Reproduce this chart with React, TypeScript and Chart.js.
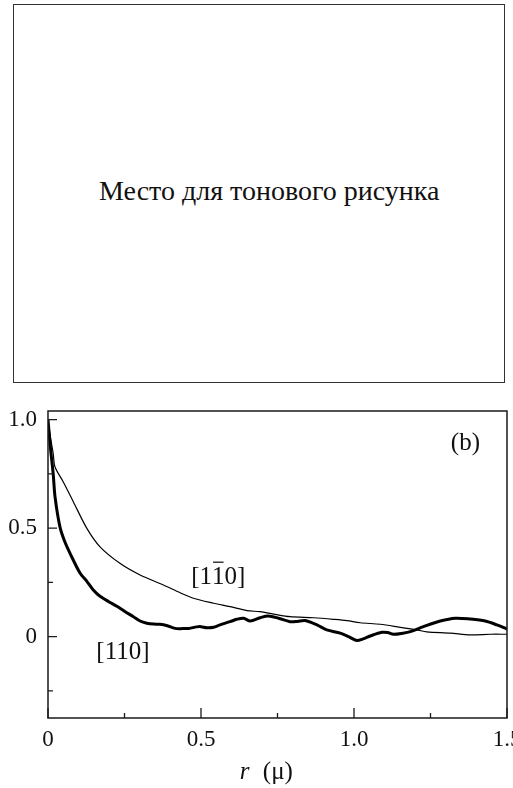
import React, { useEffect, useRef } from "react";
import { Chart, registerables } from "chart.js";

Chart.register(...registerables);

// ---- data ----
const thickX = [0, 0.008, 0.017, 0.023, 0.039, 0.055, 0.072, 0.105, 0.127, 0.148, 0.17, 0.2, 0.225, 0.25, 0.279, 0.301, 0.323, 0.345, 0.366, 0.39, 0.415, 0.44, 0.46, 0.486, 0.5, 0.519, 0.541, 0.562, 0.595, 0.617, 0.639, 0.661, 0.693, 0.72, 0.753, 0.791, 0.815, 0.84, 0.879, 0.911, 0.955, 0.982, 1.009, 1.03, 1.053, 1.091, 1.11, 1.129, 1.16, 1.184, 1.227, 1.282, 1.331, 1.38, 1.429, 1.467, 1.5];
const thickY = [1.0, 0.87, 0.75, 0.644, 0.506, 0.437, 0.384, 0.292, 0.255, 0.215, 0.186, 0.16, 0.14, 0.117, 0.092, 0.072, 0.062, 0.058, 0.057, 0.05, 0.038, 0.037, 0.038, 0.045, 0.046, 0.041, 0.043, 0.054, 0.069, 0.08, 0.085, 0.072, 0.087, 0.095, 0.085, 0.069, 0.07, 0.074, 0.054, 0.031, 0.016, 0.0, -0.018, -0.01, 0.003, 0.02, 0.019, 0.011, 0.016, 0.023, 0.046, 0.072, 0.085, 0.081, 0.072, 0.054, 0.035];

const thinX = [0, 0.008, 0.017, 0.023, 0.05, 0.083, 0.127, 0.17, 0.235, 0.301, 0.377, 0.432, 0.475, 0.541, 0.595, 0.65, 0.693, 0.737, 0.791, 0.868, 0.933, 0.977, 1.02, 1.086, 1.151, 1.206, 1.238, 1.315, 1.38, 1.446, 1.5];
const thinY = [1.0, 0.92, 0.844, 0.782, 0.713, 0.621, 0.499, 0.414, 0.338, 0.284, 0.238, 0.202, 0.177, 0.154, 0.138, 0.12, 0.115, 0.104, 0.092, 0.087, 0.08, 0.074, 0.064, 0.057, 0.043, 0.031, 0.022, 0.016, 0.008, 0.011, 0.011];

const xTickValues = [0, 0.25, 0.5, 0.75, 1.0, 1.25, 1.5];
const xTickLabels = ["0", "", "0.5", "", "1.0", "", "1.5"];
const yTickValues = [-0.25, 0, 0.25, 0.5, 0.75, 1.0];
const yTickLabels = ["", "0", "", "0.5", "", "1.0"];

const placeholderText = "Место для тонового рисунка";
const panelLabel = "(b)";
const thinLabelParts = ["[1", "1", "0]"]; // middle "1" carries an overline
const thickLabel = "[110]";
const axisTitleVar = "r";
const axisTitleUnit = "(μ)";

const SERIF = '"Liberation Serif", "Times New Roman", serif';

const annotationPlugin = {
  id: "annotations",
  afterDraw(chart: any) {
    const { ctx, chartArea, scales } = chart;
    const xs = scales.x;
    const ys = scales.y;
    ctx.save();
    // frame
    ctx.strokeStyle = "#1a1a1a";
    ctx.lineWidth = 1.5;
    ctx.strokeRect(chartArea.left, chartArea.top, chartArea.right - chartArea.left, chartArea.bottom - chartArea.top);
    // inward ticks
    ctx.lineWidth = 1.3;
    ctx.beginPath();
    yTickValues.forEach((v, i) => {
      const py = ys.getPixelForValue(v);
      const len = yTickLabels[i] ? 9 : 5;
      ctx.moveTo(chartArea.left, py);
      ctx.lineTo(chartArea.left + len, py);
    });
    xTickValues.forEach((v, i) => {
      const px = xs.getPixelForValue(v);
      const len = xTickLabels[i] ? 10 : 5;
      ctx.moveTo(px, chartArea.bottom);
      ctx.lineTo(px, chartArea.bottom - len);
    });
    ctx.stroke();

    ctx.fillStyle = "#111";
    ctx.textBaseline = "middle";
    // panel label
    ctx.font = `25px ${SERIF}`;
    ctx.textAlign = "center";
    ctx.fillText(panelLabel, xs.getPixelForValue(1.364), ys.getPixelForValue(0.891));
    // thick label
    ctx.fillText(thickLabel, xs.getPixelForValue(0.245), ys.getPixelForValue(-0.075));
    // thin label with overline on the middle "1"
    ctx.textAlign = "left";
    const lx = xs.getPixelForValue(0.468);
    const ly = ys.getPixelForValue(0.274);
    const w0 = ctx.measureText(thinLabelParts[0]).width;
    const w1 = ctx.measureText(thinLabelParts[1]).width;
    ctx.fillText(thinLabelParts[0], lx, ly);
    ctx.fillText(thinLabelParts[1], lx + w0, ly);
    ctx.fillText(thinLabelParts[2], lx + w0 + w1, ly);
    ctx.lineWidth = 1.3;
    ctx.beginPath();
    ctx.moveTo(lx + w0 + 1, ly - 15);
    ctx.lineTo(lx + w0 + w1 - 1, ly - 15);
    ctx.stroke();
    // axis title
    const ty = chartArea.bottom + 54;
    const tx = xs.getPixelForValue(0.627);
    ctx.font = `italic 25px ${SERIF}`;
    ctx.fillText(axisTitleVar, tx, ty);
    ctx.font = `25px ${SERIF}`;
    ctx.fillText(axisTitleUnit, tx + 23, ty);
    ctx.restore();
  },
};

function CorrelationChart() {
  const ref = useRef<HTMLCanvasElement | null>(null);
  useEffect(() => {
    if (!ref.current) return;
    const chart = new Chart(ref.current, {
      type: "line",
      data: {
        datasets: [
          {
            label: "[110]",
            data: thickX.map((x, i) => ({ x, y: thickY[i] })),
            borderColor: "#000",
            borderWidth: 3,
            pointRadius: 0,
            tension: 0.3,
            fill: false,
          },
          {
            label: "[1-10]",
            data: thinX.map((x, i) => ({ x, y: thinY[i] })),
            borderColor: "#000",
            borderWidth: 1.2,
            pointRadius: 0,
            tension: 0.3,
            fill: false,
          },
        ],
      },
      options: {
        responsive: false,
        animation: false,
        layout: { padding: { top: 21, right: 6, left: 0, bottom: 0 } },
        plugins: { legend: { display: false }, tooltip: { enabled: false } },
        scales: {
          x: {
            type: "linear",
            min: 0,
            max: 1.5,
            grid: { display: false, drawTicks: false },
            border: { display: false },
            afterBuildTicks: (s: any) => {
              s.ticks = xTickValues.map((v) => ({ value: v }));
            },
            afterFit: (s: any) => {
              s.height = 70;
              s.paddingLeft = 0;
              s.paddingRight = 0;
            },
            ticks: {
              autoSkip: false,
              maxRotation: 0,
              padding: 8,
              color: "#111",
              font: { family: SERIF, size: 23 },
              callback: (v: any) => {
                const i = xTickValues.findIndex((t) => Math.abs(t - Number(v)) < 1e-6);
                return i >= 0 ? xTickLabels[i] : "";
              },
            },
          },
          y: {
            type: "linear",
            min: -0.375,
            max: 1.04,
            grid: { display: false, drawTicks: false },
            border: { display: false },
            afterBuildTicks: (s: any) => {
              s.ticks = yTickValues.map((v) => ({ value: v }));
            },
            afterFit: (s: any) => {
              s.width = 48;
              s.paddingTop = 0;
              s.paddingBottom = 0;
            },
            ticks: {
              autoSkip: false,
              padding: 11,
              color: "#111",
              font: { family: SERIF, size: 23 },
              callback: (v: any) => {
                const i = yTickValues.findIndex((t) => Math.abs(t - Number(v)) < 1e-6);
                return i >= 0 ? yTickLabels[i] : "";
              },
            },
          },
        },
      },
      plugins: [annotationPlugin],
    } as any);
    return () => chart.destroy();
  }, []);
  return <canvas ref={ref} width={513} height={398} style={{ display: "block", width: 513, height: 398 }} />;
}

export default function App() {
  return (
    <div style={{ position: "absolute", left: 0, top: 0, width: 513, height: 788, background: "#fff" }}>
      <div
        style={{
          position: "absolute",
          left: 13,
          top: 4,
          width: 490,
          height: 377,
          border: "1.5px solid #333",
        }}
      />
      <div
        style={{
          position: "absolute",
          left: 99,
          top: 177,
          fontFamily: SERIF,
          fontSize: 28,
          lineHeight: "28px",
          whiteSpace: "nowrap",
          color: "#111",
        }}
      >
        {placeholderText}
      </div>
      <div style={{ position: "absolute", left: 0, top: 390, width: 513, height: 398 }}>
        <CorrelationChart />
      </div>
    </div>
  );
}
